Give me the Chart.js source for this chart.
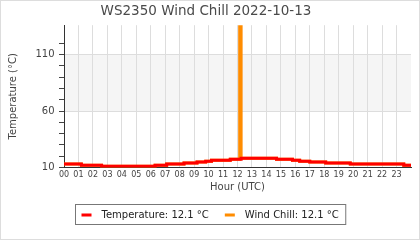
<!DOCTYPE html>
<html>
<head>
<meta charset="utf-8">
<script src="https://cdn.jsdelivr.net/npm/chart.js@4"></script>
<style>
  body { margin: 0; background: #fff; }
  #wrap { width: 418px; height: 238px; border: 1px solid #ddd; }
</style>
</head>
<body>
<div id="wrap"><canvas id="chillChart" width="418" height="238"></canvas></div>
<script>
// === DATA ===
const hourLabels = ['00', '01', '02', '03', '04', '05', '06', '07', '08', '09', '10', '11',
                    '12', '13', '14', '15', '16', '17', '18', '19', '20', '21', '22', '23'];

// temperature: hour where the value changes -> new value (step line)
const tempHours  = [0, 1.2, 2.6, 6.3, 7.1, 8.3, 9.2, 9.8, 10.2, 11.5, 12.25, 14.7, 15.8, 16.3, 17.0, 18.1, 19.8, 23.5, 24];
const tempValues = [13.0, 12.1, 11.2, 12.1, 13.0, 13.9, 14.8, 15.6, 16.5, 17.4, 18.3, 17.4, 16.5, 15.6, 14.8, 13.9, 13.0, 12.1, 12.1];

// wind chill: same as temperature except the spike just after 12h
const chillHours  = [0, 1.2, 2.6, 6.3, 7.1, 8.3, 9.2, 9.8, 10.2, 11.5, 12.15, 12.25, 14.7, 15.8, 16.3, 17.0, 18.1, 19.8, 23.5, 24];
const chillValues = [13.0, 12.1, 11.2, 12.1, 13.0, 13.9, 14.8, 15.6, 16.5, 17.4, 136, 18.3, 17.4, 16.5, 15.6, 14.8, 13.9, 13.0, 12.1, 12.1];

const yTickLabels = [10, 60, 110];
const bandRange = [60, 110];   // grey comfort band

const FONT = 'DejaVu Sans';
Chart.defaults.font.family = FONT;
Chart.defaults.color = '#444';

const isMajor = v => yTickLabels.includes(Math.round(v));

// === PLUGIN: grey band behind the grid ===
const bandPlugin = {
    id: 'band',
    beforeDraw(chart) {
        const { ctx, chartArea, scales } = chart;
        const top = scales.y.getPixelForValue(bandRange[1]);
        const bottom = scales.y.getPixelForValue(bandRange[0]);
        ctx.save();
        ctx.fillStyle = '#f5f5f5';
        ctx.fillRect(chartArea.left, top, chartArea.right - chartArea.left, bottom - top);
        ctx.restore();
    }
};

// === PLUGIN: boxed legend like the original ===
const boxLegendPlugin = {
    id: 'boxLegend',
    afterDraw(chart) {
        const { ctx } = chart;
        const items = chart.data.datasets.map(ds => ({ color: ds.borderColor, text: ds.label }));
        ctx.save();
        ctx.font = '10px ' + FONT;
        const widths = items.map(it => ctx.measureText(it.text).width);
        const sample = 10, gapText = 10, gapItem = 16, padL = 6, padR = 7;
        let total = padL + padR;
        widths.forEach((w, i) => { total += sample + gapText + w + (i > 0 ? gapItem : 0); });
        const left = Math.round((chart.width - total) / 2) + 0.5;
        const top = 203.5, h = 20, cy = top + h / 2;

        ctx.strokeStyle = '#777';
        ctx.lineWidth = 1;
        ctx.strokeRect(left, top, total, h);

        let x = left + padL;
        items.forEach((it, i) => {
            ctx.fillStyle = it.color;
            ctx.fillRect(x, cy - 1, sample, 3);
            x += sample + gapText;
            ctx.fillStyle = '#222';
            ctx.textBaseline = 'middle';
            ctx.textAlign = 'left';
            ctx.fillText(it.text, x, cy + 0.5);
            x += widths[i] + gapItem;
        });
        ctx.restore();
    }
};

const toPoints = (xs, ys) => xs.map((h, i) => ({ x: h, y: ys[i] }));
const lastTemp = tempValues[tempValues.length - 1].toFixed(1);
const lastChill = chillValues[chillValues.length - 1].toFixed(1);

new Chart(document.getElementById('chillChart'), {
    type: 'line',
    data: {
        datasets: [{
            label: 'Temperature: ' + lastTemp + ' °C',
            data: toPoints(tempHours, tempValues),
            borderColor: '#ff0000',
            borderWidth: 3,
            stepped: true,
            pointRadius: 0
        }, {
            label: 'Wind Chill: ' + lastChill + ' °C',
            data: toPoints(chillHours, chillValues),
            borderColor: '#ff8c00',
            borderWidth: 3,
            stepped: true,
            pointRadius: 0
        }]
    },
    options: {
        responsive: false,
        animation: false,
        layout: { padding: { left: 0, right: 8, top: 0, bottom: 44.5 } },
        plugins: {
            legend: { display: false },
            tooltip: { enabled: false },
            title: {
                display: true,
                text: 'WS2350 Wind Chill 2022-10-13',
                color: '#4a4a4a',
                font: { size: 13.5, weight: 'normal' },
                padding: { top: 2, bottom: 6 }
            }
        },
        scales: {
            x: {
                type: 'linear',
                min: 0,
                max: 24,
                afterFit: s => { s.height = 27; },
                ticks: {
                    stepSize: 1,
                    autoSkip: false,
                    maxTicksLimit: 30,
                    maxRotation: 0,
                    padding: 2.5,
                    color: '#444',
                    font: { size: 8 },
                    callback: v => hourLabels[v] || ''
                },
                grid: {
                    drawTicks: false,
                    color: c => (c.tick && c.tick.value === 24) ? 'rgba(0,0,0,0)' : '#ddd'
                },
                border: { color: '#333', width: 1 },
                title: {
                    display: true,
                    text: 'Hour (UTC)',
                    color: '#444',
                    font: { size: 10 },
                    padding: { top: 0, bottom: 1 }
                }
            },
            y: {
                min: 10,
                max: 136,
                afterFit: s => { s.width = 63; },
                afterBuildTicks: axis => {
                    axis.ticks = axis.ticks.filter(t => Math.abs(t.value % 10) < 1e-6 || Math.abs(t.value % 10 - 10) < 1e-6);
                },
                ticks: {
                    stepSize: 10,
                    maxTicksLimit: 30,
                    autoSkip: false,
                    padding: 4.5,
                    color: '#444',
                    font: { size: 10 },
                    callback: v => isMajor(v) ? String(Math.round(v)) : ''
                },
                grid: {
                    tickLength: 5,
                    tickColor: '#444',
                    color: c => (c.tick && isMajor(c.tick.value)) ? '#ddd' : 'rgba(0,0,0,0)'
                },
                border: { color: '#333', width: 1 },
                title: {
                    display: true,
                    text: 'Temperature (°C)',
                    color: '#444',
                    font: { size: 10 },
                    padding: { top: 6.5, bottom: 0 }
                }
            }
        }
    },
    plugins: [bandPlugin, boxLegendPlugin]
});
</script>
</body>
</html>
